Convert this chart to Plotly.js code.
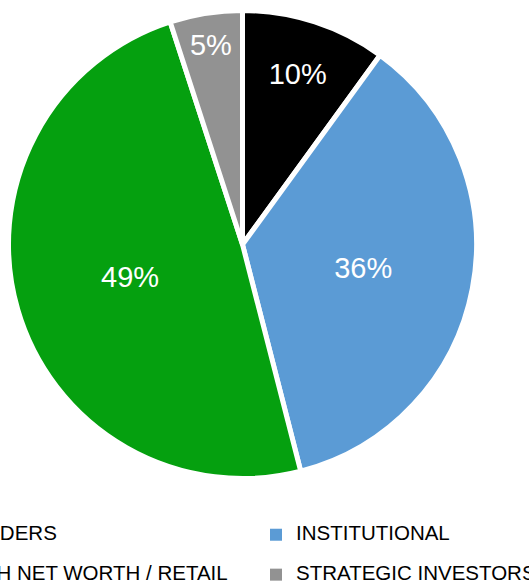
<!DOCTYPE html>
<html>
<head>
<meta charset="utf-8">
<script src="https://cdn.plot.ly/plotly-3.0.1.min.js"></script>
<style>
  html, body { margin: 0; padding: 0; background: #ffffff; overflow: hidden; width: 529px; height: 584px; }
  #chart { position: absolute; left: -120px; top: 0; width: 760px; height: 640px; }
</style>
</head>
<body>
<div id="chart"></div>
<script>
// Data
var categories = ["INSIDERS", "INSTITUTIONAL", "HIGH NET WORTH / RETAIL", "STRATEGIC INVESTORS"];
var shares = [10, 36, 49, 5];
var sliceColors = ["#000000", "#5B9BD5", "#05A00F", "#929292"];

var W = 760, H = 640;

var pieTrace = {
  type: 'pie',
  labels: categories,
  values: shares,
  sort: false,
  direction: 'clockwise',
  rotation: 0,
  showlegend: false,
  marker: { colors: sliceColors, line: { color: '#ffffff', width: 5 } },
  textinfo: 'percent',
  texttemplate: '%{percent:.0%}',
  textposition: 'inside',
  insidetextorientation: 'horizontal',
  insidetextfont: { family: 'Liberation Sans, Arial, sans-serif', size: 29, color: '#ffffff' },
  hoverinfo: 'none',
  domain: { x: [128.5 / W, 596.5 / W], y: [1 - 478.5 / H, 1 - 10.5 / H] }
};

// legend entries (one per category, same colours as the slices)
var legendTraces = categories.map(function (c, i) {
  return {
    type: 'scatter',
    mode: 'markers',
    x: [null],
    y: [null],
    name: '<span style="font-size:20.5px">' + c + '</span><br>&nbsp;',
    marker: { symbol: 'square', size: 12, color: sliceColors[i] },
    hoverinfo: 'none',
    showlegend: true
  };
});

var layout = {
  width: W,
  height: H,
  margin: { l: 0, r: 0, t: 0, b: 0 },
  paper_bgcolor: '#ffffff',
  plot_bgcolor: '#ffffff',
  xaxis: { visible: false, fixedrange: true },
  yaxis: { visible: false, fixedrange: true },
  showlegend: true,
  legend: {
    orientation: 'h',
    traceorder: 'normal',
    x: 40 / W,
    xanchor: 'left',
    y: 1 - 519 / H,
    yanchor: 'top',
    valign: 'top',
    entrywidth: 291,
    entrywidthmode: 'pixels',
    font: { family: 'Liberation Sans, Arial, sans-serif', size: 14.2, color: '#000000' },
    bgcolor: 'rgba(0,0,0,0)'
  },
  font: { family: 'Liberation Sans, Arial, sans-serif' }
};

Plotly.newPlot('chart', [pieTrace].concat(legendTraces), layout, { displayModeBar: false, staticPlot: true });
</script>
</body>
</html>
